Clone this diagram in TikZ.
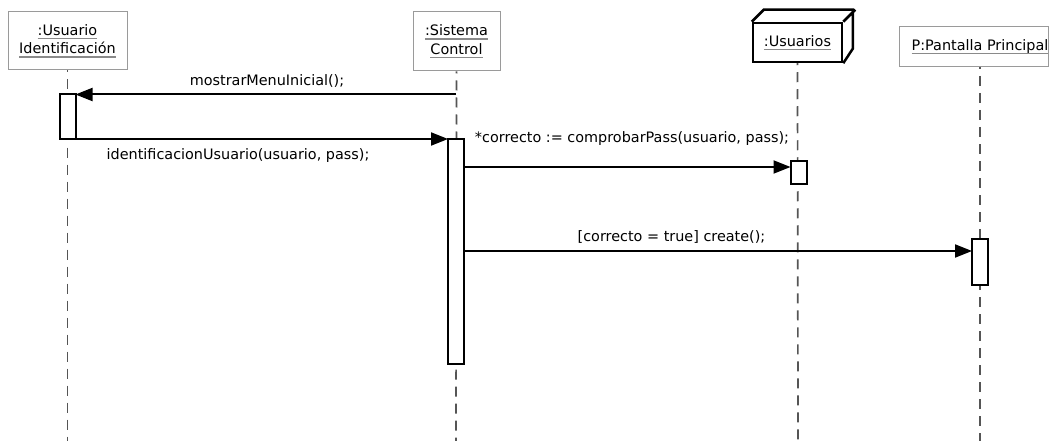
\documentclass[tikz,border=0pt]{standalone}
\usepackage{fontspec}
\setmainfont{DejaVu Sans}
\usetikzlibrary{arrows.meta}
\definecolor{boxgrey}{HTML}{9A9A9A}
\definecolor{ulgrey}{HTML}{8A8A8A}
\definecolor{lifegrey}{HTML}{555555}
\newsavebox\umlnamebox
\newcommand{\umlname}[1]{\sbox\umlnamebox{#1}\rlap{\color{ulgrey}\rule[-3.6pt]{\wd\umlnamebox}{1.1pt}}\usebox\umlnamebox}
\begin{document}
\begin{tikzpicture}[x=1pt,y=-1pt,
  font=\fontsize{14.4}{18.5}\selectfont,
  objbox/.style={draw=boxgrey, line width=1pt, fill=white, align=center, inner sep=0pt},
  lifeline/.style={draw=lifegrey, line width=1.7pt, dash pattern=on 10pt off 7pt, dash phase=8pt},
  actbox/.style={draw=black, line width=2pt, fill=white, minimum width=16pt, inner sep=0pt, outer sep=0pt},
  msg/.style={draw=black, line width=2pt, -{Triangle[length=17pt,width=13pt]}},
  lbl/.style={inner sep=0pt, anchor=center}
]
\useasboundingbox (0,0) rectangle (1049,441);

% object boxes
\node[objbox, minimum width=119pt, minimum height=58pt] (U) at (67.5,41) {\umlname{:Usuario}\\\umlname{Identificación}};
\node[objbox, minimum width=87pt, minimum height=59pt] (S) at (456.5,41.5) {\umlname{:Sistema}\\\umlname{Control}};
\node[draw=black, line width=2.5pt, fill=white, minimum width=89pt, minimum height=39pt, inner sep=0pt] (Us) at (797.5,42.5) {\umlname{:Usuarios}};
\draw[line width=2.5pt, line join=miter] (Us.north west) -- ++(12,-12) -- ++(89,0) -- ++(0,39) -- (Us.south east)
  (Us.north east) -- ++(12,-12);
\draw[boxgrey, line width=1pt] (899,27) rectangle (1048.5,67);
\node[lbl] (P) at (980,47) {\umlname{P:Pantalla Principal}};

% lifelines
\coordinate (Uend) at (67.5,441);
\coordinate (Send) at (456,441);
\coordinate (Usend) at (798,441);
\coordinate (Pend) at (980,441);
\coordinate (Ptop) at (980,67);
\draw[lifeline] (U.south) -- (Uend);
\draw[lifeline] (S.south) -- (Send);
\draw[lifeline] (Us.south) -- (Usend);
\draw[lifeline] (Ptop) -- (Pend);

% activations
\node[actbox, minimum height=45pt] (aU) at (67.5,116.5) {};
\node[actbox, minimum height=225pt] (aS) at (456,251.5) {};
\node[actbox, minimum height=23pt] (aUs) at (798.5,172.5) {};
\node[actbox, minimum height=46pt] (aP) at (980,262) {};

% messages
\coordinate (m1) at (456,94.5);
\coordinate (m2) at (0,139);
\coordinate (m3) at (0,167);
\coordinate (m4) at (0,251);
\draw[msg] (m1) -- (m1 -| aU.east);
\draw[msg] (aU.east |- m2) -- (aS.west |- m2);
\draw[msg] (aS.east |- m3) -- (aUs.west |- m3);
\draw[msg] (aS.east |- m4) -- (aP.west |- m4);

% labels
\node[lbl] (l1) at (267,81) {mostrarMenuInicial();};
\node[lbl] (l2) at (238,156) {identificacionUsuario(usuario, pass);};
\node[lbl] (l3) at (632,139) {*correcto := comprobarPass(usuario, pass);};
\node[lbl] (l4) at (671.5,237) {[correcto = true] create();};
\end{tikzpicture}
\end{document}
